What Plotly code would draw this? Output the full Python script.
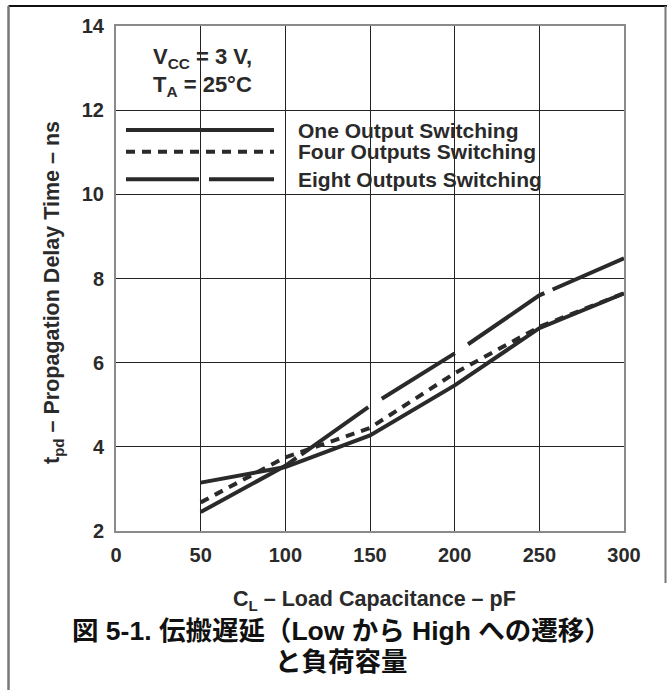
import plotly.graph_objects as go

# ---- data ----
cap_pf = [50, 100, 150, 200, 250, 300]
one_output = [3.15, 3.52, 4.27, 5.46, 6.82, 7.65]
four_outputs = [2.68, 3.75, 4.45, 5.75, 6.85, 7.65]
eight_outputs = [2.45, 3.55, 4.97, 6.22, 7.60, 8.48]

series_names = ["One Output Switching", "Four Outputs Switching", "Eight Outputs Switching"]
x_ticks = [0, 50, 100, 150, 200, 250, 300]
y_ticks = [2, 4, 6, 8, 10, 12, 14]

LINE = "#2a2a2a"
TXT = "#2a2a2a"
FONT = "Liberation Sans, Arial, sans-serif"
CAP_FONT = "Liberation Sans, Noto Sans CJK JP, sans-serif"

W, H = 667, 690
L, R, T, B = 116, 624, 26, 531

def px(xp):
    return (xp - L) / (R - L)

def py(yp):
    return (B - yp) / (B - T)

fig = go.Figure()
dashes = ["solid", "9px,7px", "110px,6px,82px,16px,86px,16px,92px,9px,120px,10px"]
for name, vals, d in zip(series_names, [one_output, four_outputs, eight_outputs], dashes):
    fig.add_trace(go.Scatter(x=cap_pf, y=vals, mode="lines", name=name,
                             line=dict(color=LINE, width=4, dash=d),
                             showlegend=False, hoverinfo="skip"))

axis_common = dict(showgrid=True, gridcolor="#222", gridwidth=1,
                   showline=True, linecolor="#8a8a8a", linewidth=2, mirror=True,
                   zeroline=False, ticks="",
                   tickfont=dict(family=FONT, size=20, color=TXT, weight="bold"))

fig.update_layout(
    width=W, height=H, margin=dict(l=L, r=W - R, t=T, b=H - B),
    paper_bgcolor="white", plot_bgcolor="white", showlegend=False,
    xaxis=dict(range=[0, 300], tickvals=x_ticks, ticklabelstandoff=5, **axis_common),
    yaxis=dict(range=[2, 14], tickvals=y_ticks, ticklabelstandoff=6, **axis_common),
)

shapes = []
# frame lines
shapes.append(dict(type="line", xref="paper", yref="paper", x0=px(8.5), x1=px(667), y0=py(6), y1=py(6),
                   line=dict(color="#111", width=2)))
shapes.append(dict(type="line", xref="paper", yref="paper", x0=px(8.5), x1=px(8.5), y0=py(6), y1=py(690),
                   line=dict(color="#777", width=2.5)))
shapes.append(dict(type="line", xref="paper", yref="paper", x0=px(665.5), x1=px(665.5), y0=py(6), y1=py(583),
                   line=dict(color="#777", width=2)))
# legend samples (pixel positions)
leg_y = [130, 151.7, 179.3]
for yy, d in zip(leg_y, ["solid", "9px,7px", "73px,10px"]):
    shapes.append(dict(type="line", xref="paper", yref="paper", x0=px(126), x1=px(274), y0=py(yy), y1=py(yy),
                       line=dict(color=LINE, width=4, dash=d)))
fig.update_layout(shapes=shapes)

ann = []
for yy, name in zip(leg_y, series_names):
    ann.append(dict(xref="paper", yref="paper", x=px(296), y=py(yy), xanchor="left", yanchor="middle",
                    text=name, showarrow=False, font=dict(family=FONT, size=21, color=TXT, weight="bold")))
ann.append(dict(xref="paper", yref="paper", x=px(151), y=py(58), xanchor="left", yanchor="middle",
                text="V<sub>CC</sub> = 3 V,", showarrow=False,
                font=dict(family=FONT, size=22, color=TXT, weight="bold")))
ann.append(dict(xref="paper", yref="paper", x=px(151), y=py(86), xanchor="left", yanchor="middle",
                text="T<sub>A</sub> = 25°C", showarrow=False,
                font=dict(family=FONT, size=22, color=TXT, weight="bold")))
ann.append(dict(xref="paper", yref="paper", x=px(374), y=py(600), xanchor="center", yanchor="middle",
                text="C<sub>L</sub> – Load Capacitance – pF", showarrow=False,
                font=dict(family=FONT, size=21.5, color=TXT, weight="bold")))
ann.append(dict(xref="paper", yref="paper", x=px(53), y=py(293), xanchor="center", yanchor="middle",
                text="t<sub>pd</sub> – Propagation Delay Time – ns", showarrow=False, textangle=-90,
                font=dict(family=FONT, size=21.5, color=TXT, weight="bold")))
ann.append(dict(xref="paper", yref="paper", x=px(341), y=py(631), xanchor="center", yanchor="middle",
                text="図 5-1. 伝搬遅延（Low から High への遷移）", showarrow=False,
                font=dict(family=CAP_FONT, size=26.5, color="#111", weight="bold")))
ann.append(dict(xref="paper", yref="paper", x=px(341), y=py(662), xanchor="center", yanchor="middle",
                text="と負荷容量", showarrow=False,
                font=dict(family=CAP_FONT, size=26.5, color="#111", weight="bold")))
fig.update_layout(annotations=ann)

fig.write_html("out.html", config={"displayModeBar": False},
               post_script="document.body.style.margin='0px';")
